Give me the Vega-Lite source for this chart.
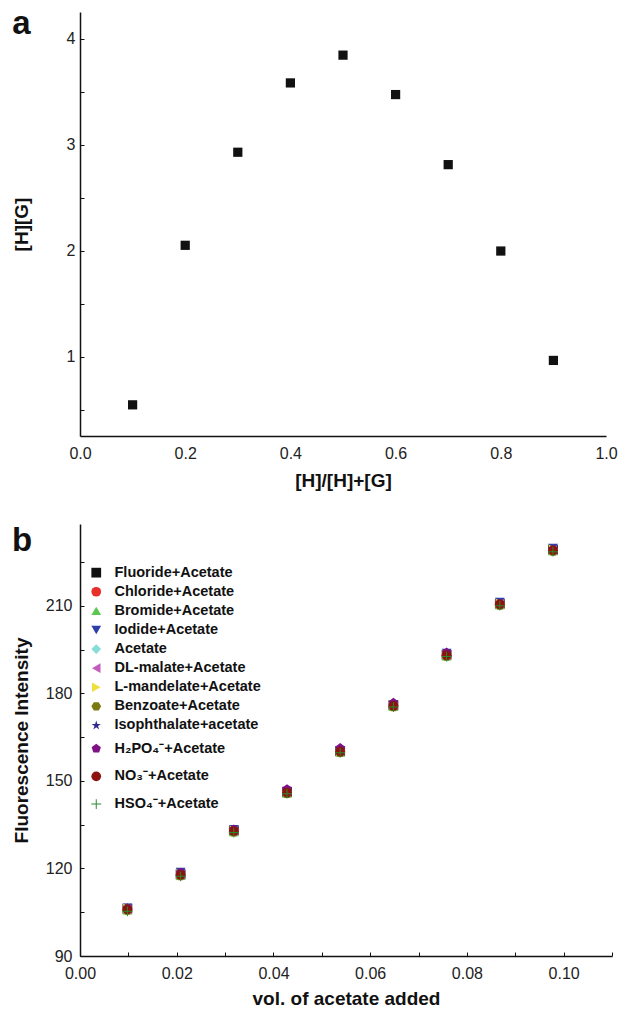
{
  "$schema": "https://vega.github.io/schema/vega-lite/v6.json",
  "background": "white",
  "padding": {"left": 12, "top": 8, "right": 4, "bottom": 2},
  "spacing": 34,
  "config": {
    "font": "Liberation Sans",
    "view": {"stroke": null},
    "axis": {
      "grid": false,
      "domainColor": "#111",
      "domainWidth": 1.5,
      "tickColor": "#111",
      "tickWidth": 1,
      "labelFont": "Liberation Sans",
      "labelFontSize": 16,
      "labelColor": "#222",
      "labelOverlap": false,
      "labelFlush": false,
      "titleFont": "Liberation Sans",
      "titleFontSize": 19,
      "titleFontWeight": "bold",
      "titleColor": "#111"
    }
  },
  "vconcat": [
    {
      "width": 526,
      "height": 424,
      "layer": [
        {
          "data": {"values": [
            {"ratio": 0.1, "hg": 0.544},
            {"ratio": 0.2, "hg": 2.049},
            {"ratio": 0.3, "hg": 2.927},
            {"ratio": 0.4, "hg": 3.581},
            {"ratio": 0.5, "hg": 3.843},
            {"ratio": 0.6, "hg": 3.471},
            {"ratio": 0.7, "hg": 2.81},
            {"ratio": 0.8, "hg": 1.995},
            {"ratio": 0.9, "hg": 0.963}
          ]},
          "mark": {"type": "point", "shape": "square", "filled": true, "size": 85, "color": "#111", "opacity": 1},
          "encoding": {
            "x": {"field": "ratio", "type": "quantitative",
              "scale": {"domain": [0, 1], "nice": false, "zero": false},
              "axis": {"title": "[H]/[H]+[G]", "values": [0, 0.2, 0.4, 0.6, 0.8, 1.0], "format": ".1f", "ticks": false, "labelPadding": 9, "titlePadding": 10}},
            "y": {"field": "hg", "type": "quantitative",
              "scale": {"domain": [0.25, 4.25], "nice": false, "zero": false},
              "axis": {"title": "[H][G]", "values": [0.5, 1, 1.5, 2, 2.5, 3, 3.5, 4], "format": ".0f", "labelExpr": "datum.value % 1 === 0 ? datum.label : ''", "tickSize": -4, "labelPadding": 9, "minExtent": 40, "maxExtent": 40, "titlePadding": 9}}
          }
        },
        {
          "data": {"values": [{"panel": "a"}]},
          "mark": {"type": "text", "text": "a", "fontSize": 33, "fontWeight": "bold", "font": "Liberation Sans", "color": "#111", "align": "left", "baseline": "alphabetic"},
          "encoding": {
            "x": {"datum": -0.129, "type": "quantitative"},
            "y": {"datum": 4.042, "type": "quantitative"}
          }
        }
      ]
    },
    {
      "width": 532,
      "height": 432,
      "layer": [
        {
          "data": {"name": "fluor", "values": [
            {"x": 0.0098, "y": 106.2, "series": "Fluoride+Acetate", "grp": 1},
            {"x": 0.0208, "y": 118.0, "series": "Fluoride+Acetate", "grp": 1},
            {"x": 0.0318, "y": 133.0, "series": "Fluoride+Acetate", "grp": 1},
            {"x": 0.0428, "y": 146.2, "series": "Fluoride+Acetate", "grp": 1},
            {"x": 0.0538, "y": 160.2, "series": "Fluoride+Acetate", "grp": 1},
            {"x": 0.0648, "y": 175.9, "series": "Fluoride+Acetate", "grp": 1},
            {"x": 0.0758, "y": 193.2, "series": "Fluoride+Acetate", "grp": 1},
            {"x": 0.0868, "y": 210.7, "series": "Fluoride+Acetate", "grp": 1},
            {"x": 0.0978, "y": 229.2, "series": "Fluoride+Acetate", "grp": 1},
            {"x": 0.0098, "y": 106.0, "series": "Chloride+Acetate", "grp": 1},
            {"x": 0.0208, "y": 117.8, "series": "Chloride+Acetate", "grp": 1},
            {"x": 0.0318, "y": 132.8, "series": "Chloride+Acetate", "grp": 1},
            {"x": 0.0428, "y": 146.0, "series": "Chloride+Acetate", "grp": 1},
            {"x": 0.0538, "y": 160.0, "series": "Chloride+Acetate", "grp": 1},
            {"x": 0.0648, "y": 175.7, "series": "Chloride+Acetate", "grp": 1},
            {"x": 0.0758, "y": 193.0, "series": "Chloride+Acetate", "grp": 1},
            {"x": 0.0868, "y": 210.5, "series": "Chloride+Acetate", "grp": 1},
            {"x": 0.0978, "y": 229.0, "series": "Chloride+Acetate", "grp": 1},
            {"x": 0.0098, "y": 105.7, "series": "Bromide+Acetate", "grp": 1},
            {"x": 0.0208, "y": 117.5, "series": "Bromide+Acetate", "grp": 1},
            {"x": 0.0318, "y": 132.5, "series": "Bromide+Acetate", "grp": 1},
            {"x": 0.0428, "y": 145.7, "series": "Bromide+Acetate", "grp": 1},
            {"x": 0.0538, "y": 159.7, "series": "Bromide+Acetate", "grp": 1},
            {"x": 0.0648, "y": 175.4, "series": "Bromide+Acetate", "grp": 1},
            {"x": 0.0758, "y": 192.7, "series": "Bromide+Acetate", "grp": 1},
            {"x": 0.0868, "y": 210.2, "series": "Bromide+Acetate", "grp": 1},
            {"x": 0.0978, "y": 228.7, "series": "Bromide+Acetate", "grp": 1},
            {"x": 0.0098, "y": 106.5, "series": "Iodide+Acetate", "grp": 1},
            {"x": 0.0208, "y": 118.8, "series": "Iodide+Acetate", "grp": 1},
            {"x": 0.0318, "y": 133.4, "series": "Iodide+Acetate", "grp": 1},
            {"x": 0.0428, "y": 146.5, "series": "Iodide+Acetate", "grp": 1},
            {"x": 0.0538, "y": 160.5, "series": "Iodide+Acetate", "grp": 1},
            {"x": 0.0648, "y": 176.3, "series": "Iodide+Acetate", "grp": 1},
            {"x": 0.0758, "y": 193.8, "series": "Iodide+Acetate", "grp": 1},
            {"x": 0.0868, "y": 211.3, "series": "Iodide+Acetate", "grp": 1},
            {"x": 0.0978, "y": 229.8, "series": "Iodide+Acetate", "grp": 1},
            {"x": 0.0098, "y": 106.3, "series": "Acetate", "grp": 1},
            {"x": 0.0208, "y": 118.1, "series": "Acetate", "grp": 1},
            {"x": 0.0318, "y": 133.1, "series": "Acetate", "grp": 1},
            {"x": 0.0428, "y": 146.3, "series": "Acetate", "grp": 1},
            {"x": 0.0538, "y": 160.3, "series": "Acetate", "grp": 1},
            {"x": 0.0648, "y": 176.0, "series": "Acetate", "grp": 1},
            {"x": 0.0758, "y": 193.3, "series": "Acetate", "grp": 1},
            {"x": 0.0868, "y": 210.8, "series": "Acetate", "grp": 1},
            {"x": 0.0978, "y": 229.3, "series": "Acetate", "grp": 1},
            {"x": 0.0098, "y": 106.1, "series": "DL-malate+Acetate", "grp": 1},
            {"x": 0.0208, "y": 117.9, "series": "DL-malate+Acetate", "grp": 1},
            {"x": 0.0318, "y": 132.9, "series": "DL-malate+Acetate", "grp": 1},
            {"x": 0.0428, "y": 146.1, "series": "DL-malate+Acetate", "grp": 1},
            {"x": 0.0538, "y": 160.1, "series": "DL-malate+Acetate", "grp": 1},
            {"x": 0.0648, "y": 175.8, "series": "DL-malate+Acetate", "grp": 1},
            {"x": 0.0758, "y": 193.1, "series": "DL-malate+Acetate", "grp": 1},
            {"x": 0.0868, "y": 210.6, "series": "DL-malate+Acetate", "grp": 1},
            {"x": 0.0978, "y": 229.1, "series": "DL-malate+Acetate", "grp": 1},
            {"x": 0.0098, "y": 106.3, "series": "L-mandelate+Acetate", "grp": 1},
            {"x": 0.0208, "y": 118.1, "series": "L-mandelate+Acetate", "grp": 1},
            {"x": 0.0318, "y": 133.1, "series": "L-mandelate+Acetate", "grp": 1},
            {"x": 0.0428, "y": 146.3, "series": "L-mandelate+Acetate", "grp": 1},
            {"x": 0.0538, "y": 160.3, "series": "L-mandelate+Acetate", "grp": 1},
            {"x": 0.0648, "y": 176.0, "series": "L-mandelate+Acetate", "grp": 1},
            {"x": 0.0758, "y": 193.3, "series": "L-mandelate+Acetate", "grp": 1},
            {"x": 0.0868, "y": 210.8, "series": "L-mandelate+Acetate", "grp": 1},
            {"x": 0.0978, "y": 229.3, "series": "L-mandelate+Acetate", "grp": 1},
            {"x": 0.0098, "y": 105.6, "series": "Benzoate+Acetate", "grp": 1},
            {"x": 0.0208, "y": 117.4, "series": "Benzoate+Acetate", "grp": 1},
            {"x": 0.0318, "y": 132.4, "series": "Benzoate+Acetate", "grp": 1},
            {"x": 0.0428, "y": 145.6, "series": "Benzoate+Acetate", "grp": 1},
            {"x": 0.0538, "y": 159.6, "series": "Benzoate+Acetate", "grp": 1},
            {"x": 0.0648, "y": 175.3, "series": "Benzoate+Acetate", "grp": 1},
            {"x": 0.0758, "y": 192.6, "series": "Benzoate+Acetate", "grp": 1},
            {"x": 0.0868, "y": 210.1, "series": "Benzoate+Acetate", "grp": 1},
            {"x": 0.0978, "y": 228.6, "series": "Benzoate+Acetate", "grp": 1},
            {"x": 0.0098, "y": 106.5, "series": "Isophthalate+acetate", "grp": 1},
            {"x": 0.0208, "y": 118.3, "series": "Isophthalate+acetate", "grp": 1},
            {"x": 0.0318, "y": 133.3, "series": "Isophthalate+acetate", "grp": 1},
            {"x": 0.0428, "y": 146.5, "series": "Isophthalate+acetate", "grp": 1},
            {"x": 0.0538, "y": 160.5, "series": "Isophthalate+acetate", "grp": 1},
            {"x": 0.0648, "y": 176.2, "series": "Isophthalate+acetate", "grp": 1},
            {"x": 0.0758, "y": 193.5, "series": "Isophthalate+acetate", "grp": 1},
            {"x": 0.0868, "y": 211.0, "series": "Isophthalate+acetate", "grp": 1},
            {"x": 0.0978, "y": 229.5, "series": "Isophthalate+acetate", "grp": 1},
            {"x": 0.0098, "y": 106.3, "series": "H₂PO₄⁻+Acetate", "grp": 2},
            {"x": 0.0208, "y": 118.6, "series": "H₂PO₄⁻+Acetate", "grp": 2},
            {"x": 0.0318, "y": 133.4, "series": "H₂PO₄⁻+Acetate", "grp": 2},
            {"x": 0.0428, "y": 147.2, "series": "H₂PO₄⁻+Acetate", "grp": 2},
            {"x": 0.0538, "y": 161.3, "series": "H₂PO₄⁻+Acetate", "grp": 2},
            {"x": 0.0648, "y": 176.8, "series": "H₂PO₄⁻+Acetate", "grp": 2},
            {"x": 0.0758, "y": 194.0, "series": "H₂PO₄⁻+Acetate", "grp": 2},
            {"x": 0.0868, "y": 210.8, "series": "H₂PO₄⁻+Acetate", "grp": 2},
            {"x": 0.0978, "y": 229.2, "series": "H₂PO₄⁻+Acetate", "grp": 2},
            {"x": 0.0098, "y": 106.0, "series": "NO₃⁻+Acetate", "grp": 2},
            {"x": 0.0208, "y": 117.8, "series": "NO₃⁻+Acetate", "grp": 2},
            {"x": 0.0318, "y": 132.8, "series": "NO₃⁻+Acetate", "grp": 2},
            {"x": 0.0428, "y": 146.0, "series": "NO₃⁻+Acetate", "grp": 2},
            {"x": 0.0538, "y": 160.0, "series": "NO₃⁻+Acetate", "grp": 2},
            {"x": 0.0648, "y": 175.7, "series": "NO₃⁻+Acetate", "grp": 2},
            {"x": 0.0758, "y": 193.0, "series": "NO₃⁻+Acetate", "grp": 2},
            {"x": 0.0868, "y": 210.5, "series": "NO₃⁻+Acetate", "grp": 2},
            {"x": 0.0978, "y": 229.0, "series": "NO₃⁻+Acetate", "grp": 2},
            {"x": 0.0098, "y": 105.3, "series": "HSO₄⁻+Acetate", "grp": 2},
            {"x": 0.0208, "y": 117.3, "series": "HSO₄⁻+Acetate", "grp": 2},
            {"x": 0.0318, "y": 132.3, "series": "HSO₄⁻+Acetate", "grp": 2},
            {"x": 0.0428, "y": 145.6, "series": "HSO₄⁻+Acetate", "grp": 2},
            {"x": 0.0538, "y": 159.6, "series": "HSO₄⁻+Acetate", "grp": 2},
            {"x": 0.0648, "y": 175.3, "series": "HSO₄⁻+Acetate", "grp": 2},
            {"x": 0.0758, "y": 192.6, "series": "HSO₄⁻+Acetate", "grp": 2},
            {"x": 0.0868, "y": 210.0, "series": "HSO₄⁻+Acetate", "grp": 2},
            {"x": 0.0978, "y": 228.5, "series": "HSO₄⁻+Acetate", "grp": 2}
          ]},
          "transform": [{"filter": "datum.grp == 1"}],
          "mark": {"type": "point", "filled": true, "size": 95, "opacity": 1, "strokeWidth": 0},
          "encoding": {
            "x": {"field": "x", "type": "quantitative",
              "scale": {"domain": [0, 0.11], "nice": false, "zero": false},
              "axis": {"title": "vol. of acetate added", "values": [0, 0.01, 0.02, 0.03, 0.04, 0.05, 0.06, 0.07, 0.08, 0.09, 0.1, 0.11], "format": ".2f", "labelExpr": "round(datum.value * 100) % 2 === 0 && datum.value < 0.105 ? datum.label : ''", "tickSize": -4, "labelPadding": 13, "titlePadding": 8}},
            "y": {"field": "y", "type": "quantitative",
              "scale": {"domain": [90, 238], "nice": false, "zero": false},
              "axis": {"title": "Fluorescence Intensity", "values": [90, 105, 120, 135, 150, 165, 180, 195, 210, 225], "labelExpr": "datum.value % 30 === 0 ? datum.label : ''", "tickSize": -4, "labelPadding": 12, "minExtent": 40, "maxExtent": 40, "titlePadding": 9}},
            "color": {"field": "series", "type": "nominal",
              "scale": {"domain": ["Fluoride+Acetate", "Chloride+Acetate", "Bromide+Acetate", "Iodide+Acetate", "Acetate", "DL-malate+Acetate", "L-mandelate+Acetate", "Benzoate+Acetate", "Isophthalate+acetate"],
                        "range": ["#111111", "#e8302a", "#5ac84f", "#2c3ea8", "#86dcd6", "#c45cc0", "#eedf3a", "#7b7a10", "#2e2a8a"]},
              "legend": {"orient": "none", "legendX": 9, "legendY": 41.4, "title": null, "labelFont": "Liberation Sans", "labelFontSize": 14.5, "labelFontWeight": "bold", "labelColor": "#111", "symbolSize": 95, "symbolStrokeWidth": 0, "rowPadding": 4.1, "labelOffset": 11, "padding": 0, "labelLimit": 300}},
            "shape": {"field": "series", "type": "nominal",
              "scale": {"domain": ["Fluoride+Acetate", "Chloride+Acetate", "Bromide+Acetate", "Iodide+Acetate", "Acetate", "DL-malate+Acetate", "L-mandelate+Acetate", "Benzoate+Acetate", "Isophthalate+acetate"],
                        "range": ["square", "circle", "triangle-up", "triangle-down", "diamond", "triangle-left", "triangle-right", "M-1,0L-0.5,-0.866L0.5,-0.866L1,0L0.5,0.866L-0.5,0.866Z", "M0,-1L0.2245,-0.309L0.951,-0.309L0.363,0.118L0.588,0.809L0,0.382L-0.588,0.809L-0.363,0.118L-0.951,-0.309L-0.2245,-0.309Z"]},
              "legend": {"orient": "none", "legendX": 9, "legendY": 41.4, "title": null, "labelFont": "Liberation Sans", "labelFontSize": 14.5, "labelFontWeight": "bold", "labelColor": "#111", "symbolSize": 95, "symbolStrokeWidth": 0, "rowPadding": 4.1, "labelOffset": 11, "padding": 0, "labelLimit": 300}}
          }
        },
        {
          "data": {"name": "fluor"},
          "transform": [{"filter": "datum.grp == 2"}],
          "mark": {"type": "point", "filled": true, "size": 95, "opacity": 1, "strokeWidth": 0},
          "encoding": {
            "x": {"field": "x", "type": "quantitative"},
            "y": {"field": "y", "type": "quantitative"},
            "color": {"field": "series", "type": "nominal",
              "scale": {"domain": ["H₂PO₄⁻+Acetate", "NO₃⁻+Acetate", "HSO₄⁻+Acetate"],
                        "range": ["#7f1184", "#8b1410", "#2a8a2a"]},
              "legend": {"orient": "none", "legendX": 9, "legendY": 217.4, "title": null, "labelFont": "Liberation Sans", "labelFontSize": 14.5, "labelFontWeight": "bold", "labelColor": "#111", "symbolSize": 95, "symbolStrokeWidth": 0, "rowPadding": 12.7, "labelOffset": 11, "padding": 0, "labelLimit": 300}},
            "shape": {"field": "series", "type": "nominal",
              "scale": {"domain": ["H₂PO₄⁻+Acetate", "NO₃⁻+Acetate", "HSO₄⁻+Acetate"],
                        "range": ["M0,-1L0.951,-0.309L0.588,0.809L-0.588,0.809L-0.951,-0.309Z", "circle", "M-1,-0.1L-0.1,-0.1L-0.1,-1L0.1,-1L0.1,-0.1L1,-0.1L1,0.1L0.1,0.1L0.1,1L-0.1,1L-0.1,0.1L-1,0.1Z"]},
              "legend": {"orient": "none", "legendX": 9, "legendY": 217.4, "title": null, "labelFont": "Liberation Sans", "labelFontSize": 14.5, "labelFontWeight": "bold", "labelColor": "#111", "symbolSize": 95, "symbolStrokeWidth": 0, "rowPadding": 12.7, "labelOffset": 11, "padding": 0, "labelLimit": 300}}
          }
        },
        {
          "data": {"values": [{"panel": "b"}]},
          "mark": {"type": "text", "text": "b", "fontSize": 33, "fontWeight": "bold", "font": "Liberation Sans", "color": "#111", "align": "left", "baseline": "alphabetic"},
          "encoding": {
            "x": {"datum": -0.01406, "type": "quantitative"},
            "y": {"datum": 228.7, "type": "quantitative"}
          }
        }
      ],
      "resolve": {"scale": {"color": "independent", "shape": "independent"}}
    }
  ]
}
